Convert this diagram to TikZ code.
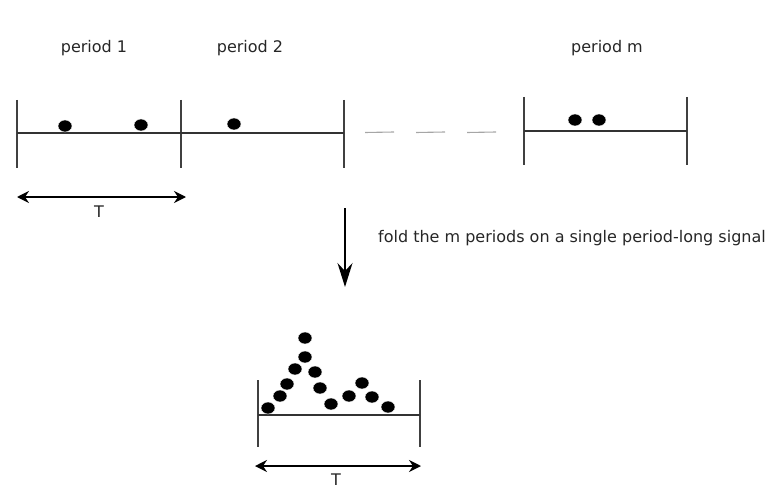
\documentclass[tikz,border=0pt]{standalone}
\usepackage{fontspec}
\setmainfont{DejaVu Sans}
\usetikzlibrary{arrows.meta,shapes.geometric,positioning}

\begin{document}
\begin{tikzpicture}[x=1pt,y=-1pt,
  lbl/.style={font=\fontsize{16}{18}\selectfont,text=black!85,anchor=base,inner sep=0pt},
  tick/.style={line width=1.4pt,black!75},
  axis/.style={line width=1.4pt,black!80},
  gap/.style={line width=1.1pt,gray!70},
  dot/.style={ellipse,fill=black,draw=white,line width=0.4pt,
              minimum width=14pt,minimum height=12pt,inner sep=0pt},
  span/.style={{Stealth[length=12pt,width=12pt,inset=4pt]}-{Stealth[length=12pt,width=12pt,inset=4pt]},
               line width=1.5pt},
  fold/.style={-{Stealth[length=24pt,width=15pt,inset=8pt]},line width=1.4pt}
]
  \useasboundingbox (0,0) rectangle (767,489);

  % period labels
  \node[lbl](p1) at (94,53)  {period 1};
  \node[lbl](p2) at (250,53) {period 2};
  \node[lbl](pm) at (607,53) {period m};

  % first two periods
  \foreach \n/\x in {a/17,b/181,c/344}{
    \coordinate (up\n) at (\x,100);
    \coordinate (dn\n) at (\x,168);
    \draw[tick] (up\n)--(dn\n);
  }
  \coordinate (la) at (17,133);
  \coordinate (lc) at (344,133);
  \draw[axis] (la)--(lc);
  \node[dot](d1) at (65,126)  {};
  \node[dot](d2) at (141,125) {};
  \node[dot](d3) at (234,124) {};

  % skipped periods
  \foreach \i/\x in {1/365,2/416,3/467}{
    \coordinate (g\i) at (\x,132.5);
    \coordinate (h\i) at ({\x+29},132);
    \draw[gap] (g\i)--(h\i);
  }

  % last period
  \foreach \n/\x in {d/524,e/687}{
    \coordinate (up\n) at (\x,97);
    \coordinate (dn\n) at (\x,165);
    \draw[tick] (up\n)--(dn\n);
  }
  \coordinate (ld) at (524,131);
  \coordinate (le) at (687,131);
  \draw[axis] (ld)--(le);
  \node[dot](d4) at (575,120) {};
  \node[dot](d5) at (599,120) {};

  % period length
  \coordinate (ta) at (17,197);
  \coordinate (tb) at (186,197);
  \draw[span] (ta)--(tb);
  \node[lbl](T1) at (99,217) {T};

  % folding step
  \coordinate (fa) at (345,208);
  \coordinate (fb) at (345,287);
  \draw[fold] (fa)--(fb);
  \node[lbl,anchor=base west](note) at (378,242)
      {fold the m periods on a single period-long signal};

  % folded period
  \foreach \n/\x in {f/258,g/420}{
    \coordinate (up\n) at (\x,380);
    \coordinate (dn\n) at (\x,447);
    \draw[tick] (up\n)--(dn\n);
  }
  \coordinate (lf) at (258,415);
  \coordinate (lg) at (420,415);
  \draw[axis] (lf)--(lg);
  \foreach \i/\p in {1/{268,408},2/{280,396},3/{287,384},4/{295,369},5/{305,357},
                     6/{305,338},7/{315,372},8/{320,388},9/{331,404},10/{349,396},
                     11/{362,383},12/{372,397},13/{388,407}}
    \node[dot](f\i) at (\p) {};

  \coordinate (sa) at (255,466);
  \coordinate (sb) at (421,466);
  \draw[span] (sa)--(sb);
  \node[lbl](T2) at (336,485) {T};
\end{tikzpicture}
\end{document}
